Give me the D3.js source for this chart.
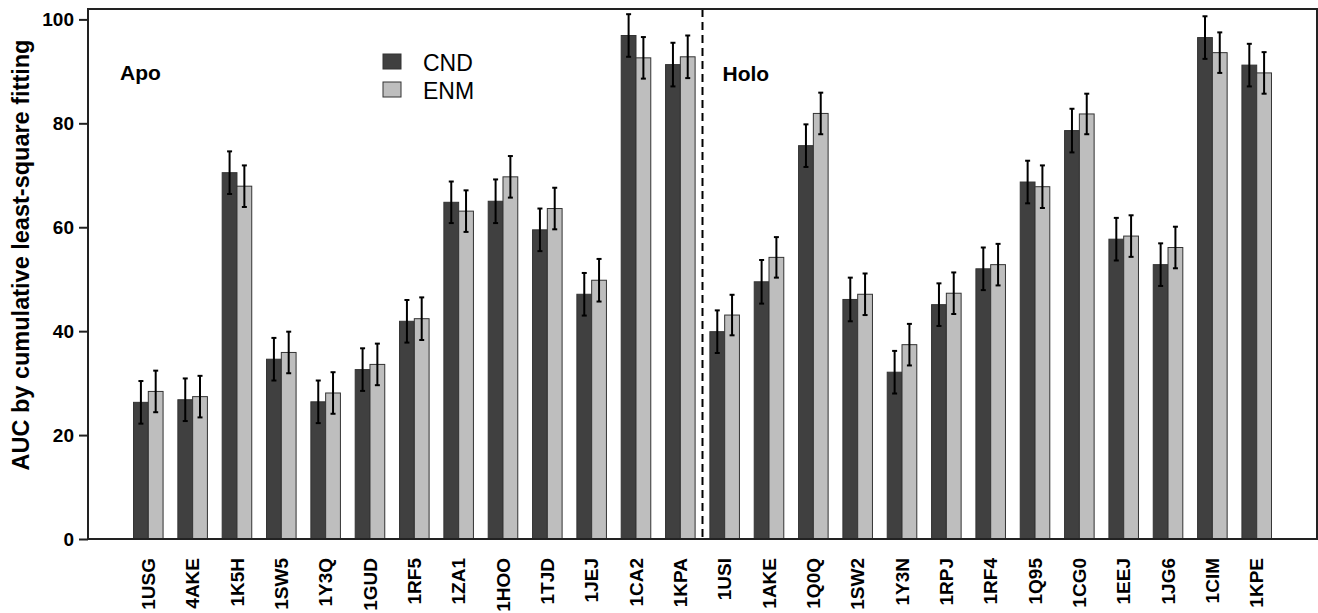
<html>
    <head>
        <meta charset="utf-8">
        <title>AUC by cumulative least-square fitting</title>
        <script type="text/javascript" src="https://cdn.jsdelivr.net/npm/d3@7"></script>
        <style>
            body { margin: 0; background: #fff; }
            text { font-family: "Liberation Sans", Arial, Helvetica, sans-serif; }
        </style>
    </head>
    <body>
        <script type="text/javascript">
            // proteins, apo set first then holo set
            var proteins = ["1USG", "4AKE", "1K5H", "1SW5", "1Y3Q", "1GUD", "1RF5", "1ZA1", "1HOO", "1TJD", "1JEJ", "1CA2", "1KPA",
                            "1USI", "1AKE", "1Q0Q", "1SW2", "1Y3N", "1RPJ", "1RF4", "1Q95", "1CG0", "1EEJ", "1JG6", "1CIM", "1KPE"];
            var methods = ["CND", "ENM"];
            var cnd = [26.3, 26.8, 70.5, 34.6, 26.4, 32.6, 41.9, 64.8, 65.0, 59.5, 47.1, 96.9, 91.3,
                       39.9, 49.5, 75.7, 46.1, 32.1, 45.1, 52.0, 68.7, 78.6, 57.7, 52.8, 96.5, 91.2];
            var enm = [28.4, 27.4, 67.9, 35.9, 28.1, 33.6, 42.4, 63.1, 69.7, 63.6, 49.8, 92.6, 92.8,
                       43.1, 54.2, 81.9, 47.1, 37.4, 47.3, 52.8, 67.8, 81.8, 58.3, 56.1, 93.6, 89.7];
            var cndErr = [4.1, 4.1, 4.1, 4.1, 4.1, 4.1, 4.1, 4.0, 4.2, 4.1, 4.1, 4.1, 4.2,
                          4.1, 4.2, 4.1, 4.2, 4.1, 4.1, 4.1, 4.1, 4.2, 4.1, 4.1, 4.1, 4.1];
            var enmErr = [4.0, 4.0, 4.0, 4.0, 4.0, 4.0, 4.1, 4.0, 4.0, 4.0, 4.1, 4.0, 4.1,
                          3.9, 3.9, 4.0, 4.0, 4.0, 4.0, 4.0, 4.1, 3.9, 4.0, 4.0, 3.9, 4.0];
            var yTicks = [0, 20, 40, 60, 80, 100];
            var nApo = 13;

            var w = 1318;
            var h = 613;
            var pL = 88, pR = 1317, pT = 9, pB = 539;

            var svg = d3.select("body").append("svg").attr("width", w).attr("height", h);

            var data = proteins.map(function(p, i) {
                return { name: p, vals: [
                    { key: "CND", v: cnd[i], e: cndErr[i] },
                    { key: "ENM", v: enm[i], e: enmErr[i] }
                ]};
            });

            var x0 = d3.scaleBand().domain(proteins).range([pL, pR])
                       .paddingInner(1 / 3).paddingOuter(1.0267);
            var x1 = d3.scaleBand().domain(methods).range([0, x0.bandwidth()]).padding(0);
            var y = d3.scaleLinear().domain([0, 102]).range([pB, pT]);
            var color = d3.scaleOrdinal().domain(methods).range(["#404040", "#bebebe"]);

            // bars
            var groups = svg.selectAll("g.grp").data(data).enter().append("g")
                            .attr("class", "grp")
                            .attr("transform", function(d) { return "translate(" + x0(d.name) + ",0)"; });

            groups.selectAll("rect").data(function(d) { return d.vals; }).enter().append("rect")
                  .attr("x", function(d) { return x1(d.key); })
                  .attr("y", function(d) { return y(d.v); })
                  .attr("width", x1.bandwidth())
                  .attr("height", function(d) { return y(0) - y(d.v); })
                  .attr("fill", function(d) { return color(d.key); })
                  .attr("stroke", "#333")
                  .attr("stroke-width", 1);

            // error bars
            var eb = groups.selectAll("g.err").data(function(d) { return d.vals; }).enter().append("g")
                           .attr("class", "err")
                           .attr("transform", function(d) { return "translate(" + (x1(d.key) + x1.bandwidth() / 2) + ",0)"; });
            eb.append("line")
              .attr("x1", 0).attr("x2", 0)
              .attr("y1", function(d) { return y(d.v - d.e); })
              .attr("y2", function(d) { return y(d.v + d.e); })
              .attr("stroke", "#000").attr("stroke-width", 2);
            eb.selectAll("line.cap").data(function(d) { return [d.v - d.e, d.v + d.e]; }).enter().append("line")
              .attr("class", "cap")
              .attr("x1", -2.5).attr("x2", 2.5)
              .attr("y1", function(d) { return y(d); })
              .attr("y2", function(d) { return y(d); })
              .attr("stroke", "#000").attr("stroke-width", 2);

            // divider between apo and holo
            var xDiv = (x0(proteins[nApo - 1]) + x0.bandwidth() + x0(proteins[nApo])) / 2;
            svg.append("line")
               .attr("x1", xDiv).attr("x2", xDiv)
               .attr("y1", pT).attr("y2", pB)
               .attr("stroke", "#000").attr("stroke-width", 2)
               .attr("stroke-dasharray", "8,5");

            // frame
            svg.append("rect")
               .attr("x", pL).attr("y", pT)
               .attr("width", pR - pL).attr("height", pB - pT)
               .attr("fill", "none").attr("stroke", "#222").attr("stroke-width", 2);

            // y axis
            var yAxis = svg.append("g").attr("transform", "translate(" + pL + ",0)")
                           .call(d3.axisLeft(y).tickValues(yTicks).tickSize(9).tickPadding(5));
            yAxis.select(".domain").remove();
            yAxis.selectAll("line").attr("stroke", "#222").attr("stroke-width", 2);
            yAxis.selectAll("text").attr("font-size", "19px").attr("font-weight", "bold")
                 .attr("font-family", "Liberation Sans, Arial, sans-serif").attr("fill", "#000");

            // x labels
            var xAxis = svg.append("g").attr("transform", "translate(0," + pB + ")")
                           .call(d3.axisBottom(x0).tickSize(0));
            xAxis.select(".domain").remove();
            xAxis.selectAll("text")
                 .attr("transform", "rotate(-90)")
                 .attr("x", -19).attr("y", 0).attr("dy", "0.35em")
                 .attr("text-anchor", "end")
                 .attr("font-size", "19px").attr("font-weight", "bold")
                 .attr("font-family", "Liberation Sans, Arial, sans-serif").attr("fill", "#000");

            // y title
            svg.append("text")
               .attr("transform", "translate(29,255) rotate(-90)")
               .attr("text-anchor", "middle")
               .attr("font-size", "23.5px").attr("font-weight", "bold")
               .text("AUC by cumulative least-square fitting");

            // section labels
            svg.append("text").attr("x", 120).attr("y", 80)
               .attr("font-size", "21px").attr("font-weight", "bold").text("Apo");
            svg.append("text").attr("x", xDiv + 20).attr("y", 81)
               .attr("font-size", "21px").attr("font-weight", "bold").text("Holo");

            // legend
            var legend = svg.append("g").attr("transform", "translate(383,54)");
            var li = legend.selectAll("g").data(methods).enter().append("g")
                           .attr("transform", function(d, i) { return "translate(0," + (i * 28) + ")"; });
            li.append("rect").attr("width", 18).attr("height", 15)
              .attr("fill", function(d) { return color(d); })
              .attr("stroke", "#333").attr("stroke-width", 1);
            li.append("text").attr("x", 40).attr("y", 16.5)
              .attr("font-size", "23px").text(function(d) { return d; });
        </script>
    </body>
</html>
